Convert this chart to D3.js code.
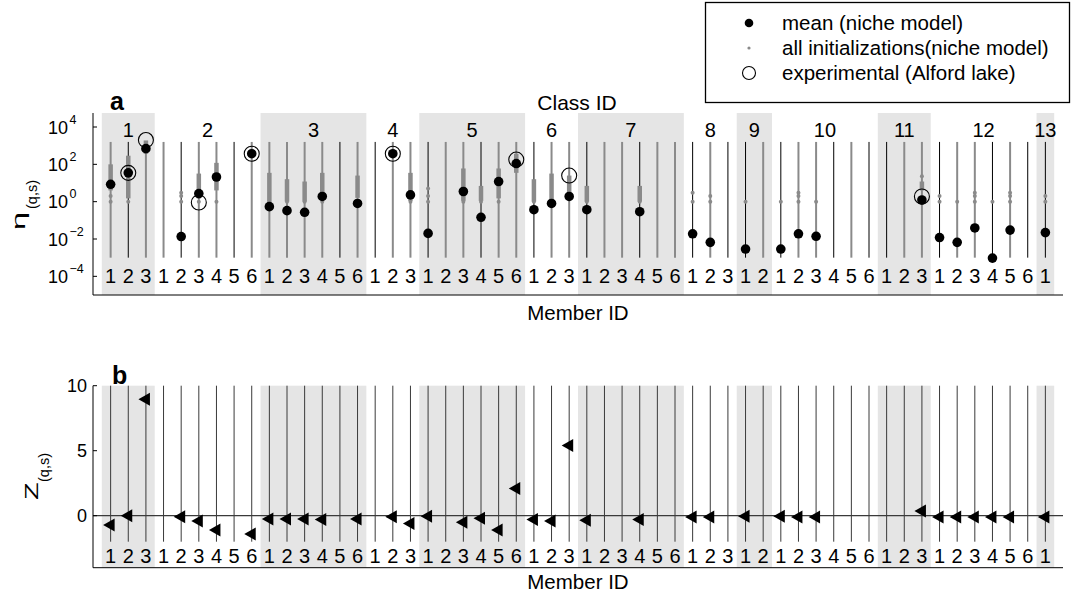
<!DOCTYPE html>
<html>
<head>
<meta charset="utf-8">
<script src="https://cdn.jsdelivr.net/npm/d3@7"></script>
<style>
  body { margin: 0; background: #fff; }
  svg { display: block; font-family: "Liberation Sans", Arial, sans-serif; }
</style>
</head>
<body>
<svg id="chart" width="1078" height="599"></svg>
<script>
// member ids of each class (class id = position + 1)
const classIds = [1, 2, 3, 4, 5, 6, 7, 8, 9, 10, 11, 12, 13];
const members = [
  [1, 2, 3], [1, 2, 3, 4, 5, 6], [1, 2, 3, 4, 5, 6], [1, 2, 3], [1, 2, 3, 4, 5, 6],
  [1, 2, 3], [1, 2, 3, 4, 5, 6], [1, 2, 3], [1, 2], [1, 2, 3, 4, 5, 6],
  [1, 2, 3], [1, 2, 3, 4, 5, 6], [1]
];
// stem colour per member: g = grey (initializations cover it), k = black
const stems = ["gkg", "gkggkg", "ggggkg", "kgg", "kggkgg", "kgg", "kggkgg",
               "kgk", "kg", "kggkgk", "kgg", "kggkgk", "k"];

// eta, mean over initializations (niche model)
const meanEta = [
  [8.5, 35, 690],
  [null, 0.0135, 2.7, 21, null, 370],
  [0.54, 0.33, 0.27, 1.9, null, 0.8],
  [null, 370, 2.3],
  [0.02, null, 3.5, 0.145, 12, 110],
  [0.37, 0.8, 1.9],
  [0.37, null, null, 0.29, null, null],
  [0.019, 0.0066, null],
  [0.0029, null],
  [0.0029, 0.019, 0.014, null, null, null],
  [null, null, 1.23],
  [0.012, 0.0066, 0.039, 0.00095, 0.03, null],
  [0.022]
];

// experimental (Alford lake): [class, member, eta]
const expEta = [
  [1, 2, 35], [1, 3, 2000], [2, 3, 0.9], [2, 6, 370],
  [4, 2, 370], [5, 6, 180], [6, 3, 25], [11, 3, 1.9]
];

// dense bands of initializations: [class, member, low, high]
const initBands = [
  [1, 1, 4, 100], [1, 2, 1.5, 290], [1, 3, 370, 1900], [2, 3, 1.5, 32], [2, 4, 4, 120],
  [2, 6, 250, 600], [3, 1, 1, 35], [3, 2, 1, 16], [3, 3, 1, 12], [3, 4, 1.5, 35],
  [3, 6, 1.6, 25], [4, 2, 280, 480], [4, 3, 1.1, 35], [5, 3, 1.1, 60], [5, 4, 1.1, 7],
  [5, 5, 1.5, 60], [5, 6, 35, 370], [6, 1, 1, 16], [6, 2, 1.1, 32], [6, 3, 2.7, 25],
  [7, 1, 1, 7], [7, 4, 1, 7], [11, 3, 4, 12]
];

// single initialization values: [class, member, values]
const initDots = [
  [1, 1, [1, 2]], [1, 2, [1]], [2, 2, [1, 2, 3]], [2, 3, [1]], [2, 4, [1]],
  [3, 1, [1]], [3, 2, [1]], [3, 3, [1]], [3, 4, [1]], [3, 6, [1]], [4, 3, [1]],
  [5, 1, [1, 2, 5]], [5, 3, [1]], [5, 4, [1]], [5, 5, [1]], [6, 1, [1]], [6, 2, [1]],
  [7, 1, [1]], [7, 4, [1]], [8, 1, [1, 3]], [8, 2, [1, 2]], [9, 1, [1]], [10, 1, [1]],
  [10, 2, [1, 2, 3]], [10, 3, [1]], [11, 3, [23]], [12, 1, [1, 2]], [12, 2, [1]],
  [12, 3, [1, 2, 3]], [12, 4, [1]], [12, 5, [1, 2, 3]], [13, 1, [1, 2]]
];

// Z score per member
const zScore = [
  [-0.72, 0, 8.95],
  [null, -0.08, -0.4, -1.1, null, -1.4],
  [-0.25, -0.25, -0.25, -0.3, null, -0.25],
  [null, -0.08, -0.6],
  [-0.05, null, -0.5, -0.2, -1.1, 2.1],
  [-0.3, -0.4, 5.4],
  [-0.35, null, null, -0.3, null, null],
  [-0.1, -0.1, null],
  [-0.05, null],
  [-0.05, -0.1, -0.1, null, null, null],
  [null, null, 0.36],
  [-0.1, -0.1, -0.1, -0.1, -0.1, null],
  [-0.1]
];

const etaTicks = [1e-4, 1e-2, 1, 1e2, 1e4];
const etaTickExp = ["\u22124", "\u22122", "0", "2", "4"];
const zTicks = [0, 5, 10];

// flatten members to one position index each
const flat = [];
const start = {};
classIds.forEach((c, ci) => {
  start[c] = flat.length;
  members[ci].forEach((m, mi) => flat.push({
    c, m, i: flat.length, stem: stems[ci][mi],
    mean: meanEta[ci][mi], z: zScore[ci][mi]
  }));
});
const idx = (c, m) => start[c] + m - 1;

const svg = d3.select("#chart");
const grey = "#8a8a8a", shade = "#e5e5e5";

const x = d3.scaleLinear().domain([-1, flat.length]).range([93, 1063]);
const ya = d3.scaleLog().domain([1e-5, Math.pow(10, 4.75)]).range([295, 113]);
const yb = d3.scaleLinear().domain([-4, 10]).range([567.7, 385.7]);

function frame(g, y0, y1, labelY) {
  // alternate class shading
  g.append("g").selectAll("rect")
    .data(classIds.filter((c, i) => i % 2 === 0))
    .join("rect")
      .attr("x", c => x(start[c] - 0.5))
      .attr("width", c => x(start[c] + members[c - 1].length - 0.5) - x(start[c] - 0.5))
      .attr("y", y1).attr("height", y0 - y1)
      .attr("fill", shade);
  g.append("g").selectAll("text")
    .data(flat)
    .join("text")
      .attr("x", d => x(d.i)).attr("y", labelY)
      .attr("text-anchor", "middle")
      .attr("font-size", 20)
      .text(d => d.m);
}

// rotated y label: stretched main letter plus subscript
function yLabel(g, tx, ty, main, size, stretch, subDx, subDy) {
  const l = g.append("g").attr("transform", `translate(${tx},${ty}) rotate(-90)`);
  l.append("text").attr("transform", `scale(${stretch},1)`)
    .attr("font-size", size).text(main);
  l.append("text").attr("x", subDx).attr("y", subDy)
    .attr("font-size", 14.5).text("(q,s)");
}

// ---------- panel a ----------
const ga = svg.append("g");
frame(ga, 295, 113, 283);

ga.append("g").selectAll("line")
  .data(flat)
  .join("line")
    .attr("x1", d => x(d.i)).attr("x2", d => x(d.i))
    .attr("y1", ya(1e-3)).attr("y2", ya(Math.pow(10, 3.2)))
    .attr("stroke", d => d.stem === "g" ? grey : "#000")
    .attr("stroke-width", d => d.stem === "g" ? 2 : 1);

ga.append("g").selectAll("line")
  .data(initBands)
  .join("line")
    .attr("x1", d => x(idx(d[0], d[1]))).attr("x2", d => x(idx(d[0], d[1])))
    .attr("y1", d => ya(d[2])).attr("y2", d => ya(d[3]))
    .attr("stroke", grey).attr("stroke-width", 4.5);

ga.append("g").selectAll("circle")
  .data(initDots.flatMap(d => d[2].map(v => ({ i: idx(d[0], d[1]), v }))))
  .join("circle")
    .attr("cx", d => x(d.i)).attr("cy", d => ya(d.v))
    .attr("r", 2).attr("fill", grey);

ga.append("g").selectAll("circle")
  .data(flat.filter(d => d.mean != null))
  .join("circle")
    .attr("cx", d => x(d.i)).attr("cy", d => ya(d.mean))
    .attr("r", 4.8).attr("fill", "#000");

ga.append("g").selectAll("circle")
  .data(expEta)
  .join("circle")
    .attr("cx", d => x(idx(d[0], d[1]))).attr("cy", d => ya(d[2]))
    .attr("r", 7.5).attr("fill", "none").attr("stroke", "#000").attr("stroke-width", 1.1);

// class labels
ga.append("g").selectAll("text")
  .data(classIds)
  .join("text")
    .attr("x", c => x(start[c] + (members[c - 1].length - 1) / 2))
    .attr("y", 137)
    .attr("text-anchor", "middle")
    .attr("font-size", 20)
    .text(c => c);

// axes
ga.append("path").attr("d", `M${x(-1)},113V295H${x(flat.length)}`)
  .attr("fill", "none").attr("stroke", "#000");
const ta = ga.append("g").selectAll("g").data(etaTicks).join("g")
  .attr("transform", d => `translate(0,${ya(d)})`);
ta.append("line").attr("x1", 93).attr("x2", 97).attr("stroke", "#000");
ta.append("text").attr("x", 68).attr("y", 6.5)
  .attr("text-anchor", "end").attr("font-size", 18).text("10");
ta.append("text").attr("x", 69.5).attr("y", -3.5)
  .attr("font-size", 12.5).text((d, i) => etaTickExp[i]);

ga.append("text").attr("x", 577).attr("y", 110).attr("text-anchor", "middle")
  .attr("font-size", 21).text("Class ID");
ga.append("text").attr("x", 578).attr("y", 320).attr("text-anchor", "middle")
  .attr("font-size", 20.5).text("Member ID");
ga.append("text").attr("x", 110).attr("y", 110).attr("font-size", 25)
  .attr("font-weight", "bold").text("a");
yLabel(ga, 24.5, 230, "\u03b7", 18, 1.8, 21, 12.5);

// ---------- panel b ----------
const gb = svg.append("g");
frame(gb, 567.7, 385.7, 563);

gb.append("g").selectAll("line")
  .data(flat)
  .join("line")
    .attr("x1", d => x(d.i)).attr("x2", d => x(d.i))
    .attr("y1", yb(-2)).attr("y2", yb(10))
    .attr("stroke", "#3a3a3a").attr("stroke-width", 1);

gb.append("line").attr("x1", x(-1)).attr("x2", x(flat.length))
  .attr("y1", yb(0)).attr("y2", yb(0))
  .attr("stroke", "#3a3a3a").attr("stroke-width", 1.2);

gb.append("g").selectAll("path")
  .data(flat.filter(d => d.z != null))
  .join("path")
    .attr("transform", d => `translate(${x(d.i)},${yb(d.z)})`)
    .attr("d", "M-7.5,0L4,-6.5L4,6.5Z")
    .attr("fill", "#000");

gb.append("path").attr("d", `M${x(-1)},385.7V567.7H${x(flat.length)}`)
  .attr("fill", "none").attr("stroke", "#000");
const tb = gb.append("g").selectAll("g").data(zTicks).join("g")
  .attr("transform", d => `translate(0,${yb(d)})`);
tb.append("line").attr("x1", 93).attr("x2", 97).attr("stroke", "#000");
tb.append("text").attr("x", 87).attr("y", 6.5).attr("text-anchor", "end")
  .attr("font-size", 18).text(d => d);

gb.append("text").attr("x", 578).attr("y", 589).attr("text-anchor", "middle")
  .attr("font-size", 20.5).text("Member ID");
gb.append("text").attr("x", 112).attr("y", 384).attr("font-size", 25)
  .attr("font-weight", "bold").text("b");
yLabel(gb, 38, 500, "Z", 18, 1.6, 18, 10.5);

// ---------- legend ----------
const lg = svg.append("g");
lg.append("rect").attr("x", 705.5).attr("y", 2.5).attr("width", 364).attr("height", 100)
  .attr("fill", "#fff").attr("stroke", "#000").attr("stroke-width", 1.3);
const legendItems = ["mean (niche model)", "all initializations(niche model)", "experimental (Alford lake)"];
const row = lg.selectAll("g").data(legendItems).join("g")
  .attr("transform", (d, i) => `translate(749,${23 + i * 25})`);
row.append("text").attr("x", 33).attr("y", 6.5).attr("font-size", 20.5).text(d => d);
row.filter((d, i) => i === 0).append("circle").attr("r", 4.3).attr("fill", "#000");
row.filter((d, i) => i === 1).append("circle").attr("r", 1.6).attr("fill", grey);
row.filter((d, i) => i === 2).append("circle").attr("r", 6.5)
  .attr("fill", "none").attr("stroke", "#000").attr("stroke-width", 1.1);
</script>
</body>
</html>
